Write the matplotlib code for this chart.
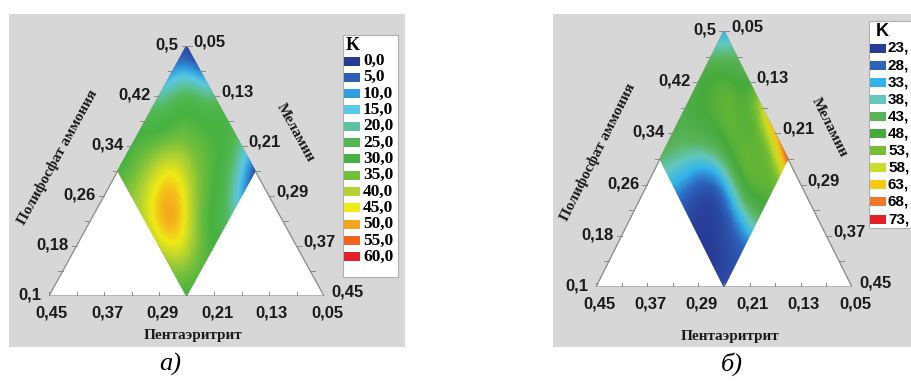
import numpy as np
import matplotlib
matplotlib.use("Agg")
import matplotlib.pyplot as plt
import matplotlib.tri as mtri
from matplotlib.colors import LinearSegmentedColormap, Normalize
from matplotlib.patches import Rectangle, Polygon

W, H = 911, 381

# steps along the two edges of the design region (diamond)
u_steps = [0.0, 0.2, 0.4, 0.6, 0.8, 1.0]   # Пентаэритрит 0.05 -> 0.25
v_steps = [0.0, 0.2, 0.4, 0.6, 0.8, 1.0]   # Меламин 0.05 -> 0.25

# K, rows = u, columns = v
K_a = [
    [2, 8, 22, 28, 20, 3],
    [10, 25, 30, 31, 25, 12],
    [20, 30, 36, 35, 30, 24],
    [27, 35, 44, 43, 35, 30],
    [30, 38, 47, 49, 41, 32],
    [30, 37, 41, 41, 36, 30],
]
K_b = [
    [33, 42, 48, 58, 64, 70],
    [42, 49, 50, 50, 51, 52],
    [47, 49, 49, 49, 49, 46],
    [46, 45, 38, 33, 34, 33],
    [45, 38, 28, 24, 25, 26],
    [42, 33, 26, 23, 23, 25],
]

levels_a = [0, 5, 10, 15, 20, 25, 30, 35, 40, 45, 50, 55, 60]
labels_a = ["%d,0" % v for v in levels_a]
colors_a = ["#283c96", "#2d5fb4", "#2f9ee0", "#5ac8e6", "#5cc3a0", "#52b854", "#46b240",
            "#73bf3c", "#b4d232", "#f0eb14", "#f5a51e", "#f0641e", "#e61e28"]
levels_b = [23, 28, 33, 38, 43, 48, 53, 58, 63, 68, 73]
labels_b = ["%d," % v for v in levels_b]   # cut at the right edge in the source
colors_b = ["#283c96", "#2d64be", "#32b4eb", "#64c8be", "#5ab45a", "#46aa3c", "#78be32",
            "#c8dc28", "#f5c814", "#f07828", "#e61e28"]

ppa_ticks = [0.1, 0.18, 0.26, 0.34, 0.42, 0.5]
mel_ticks = [0.05, 0.13, 0.21, 0.29, 0.37, 0.45]
pen_ticks = [0.45, 0.37, 0.29, 0.21, 0.13, 0.05]

BG = "#d7d7d7"
EDGE = "#8a8a8a"
SANS = ["Liberation Sans", "DejaVu Sans"]
SERIF = ["Liberation Serif", "DejaVu Serif"]


def fmt(v):
    return ("%g" % v).replace(".", ",")


def tern_xy(ppa, mel):
    a = (np.asarray(ppa) - 0.1) / 0.4
    m = (np.asarray(mel) - 0.05) / 0.4
    return m + a / 2, a


fig = plt.figure(figsize=(W / 100, H / 100), dpi=100, facecolor="white")
bg = fig.add_axes([0, 0, 1, 1], zorder=0)
bg.set_xlim(0, W)
bg.set_ylim(H, 0)
bg.axis("off")

panels = [
    dict(box=(9, 14, 396, 333), tri=(49, 296, 275, 250), K=K_a, levels=levels_a, labels=labels_a,
         colors=colors_a, leg=(343, 35, 55, 242), leg_y0=61, leg_step=16.33, leg_font=SERIF,
         leg_size=12.5, leg_tx=20, k_xy=(353, 46), pen_y=-0.156, ppa_xy=(0.033, 0.556),
         mel_xy=(0.898, 0.652), cap=(170, 364, "а)")),
    dict(box=(553, 14, 400, 333), tri=(596, 287, 256, 256), K=K_b, levels=levels_b, labels=labels_b,
         colors=colors_b, leg=(869, 21, 80, 207), leg_y0=48, leg_step=17.1, leg_font=SANS,
         leg_size=11, leg_tx=19, k_xy=(882, 32), pen_y=-0.195, ppa_xy=(0.008, 0.527),
         mel_xy=(0.91, 0.625), cap=(732, 364, "б)")),
]

for p in panels:
    bx, by, bw, bh = p["box"]
    bg.add_patch(Rectangle((bx, by), bw, bh, facecolor=BG, edgecolor="none", zorder=0))

    tx, ty, tw, th = p["tri"]
    ax = fig.add_axes([tx / W, (H - ty) / H, tw / W, th / H], zorder=1)
    ax.set_xlim(0, 1)
    ax.set_ylim(0, 1)
    ax.axis("off")
    ax.patch.set_visible(False)

    ax.add_patch(Polygon([(0, 0), (1, 0), (0.5, 1)], closed=True, facecolor="white",
                         edgecolor=EDGE, linewidth=0.9, zorder=1))

    # surface over the diamond
    uu, vv = np.meshgrid(u_steps, v_steps, indexing="ij")
    pen = 0.05 + 0.2 * uu
    mel = 0.05 + 0.2 * vv
    ppa = 0.6 - pen - mel
    x, y = tern_xy(ppa.ravel(), mel.ravel())
    z = np.asarray(p["K"], dtype=float).ravel()
    tri = mtri.Triangulation(x, y)
    tri_f, z_f = mtri.UniformTriRefiner(tri).refine_field(z, subdiv=4)
    cmap = LinearSegmentedColormap.from_list("k", p["colors"])
    norm = Normalize(p["levels"][0], p["levels"][-1])
    ax.tripcolor(tri_f, z_f, shading="gouraud", cmap=cmap, norm=norm, zorder=2)

    # ticks
    dx = 5 / tw
    dy = 4 / th
    for v in np.arange(0.1, 0.5001, 0.04):
        xx, yy = tern_xy(v, 0.05)
        ax.plot([xx, xx - dx], [yy, yy], color=EDGE, lw=0.7, zorder=3)
    for v in np.arange(0.05, 0.4501, 0.04):
        xx, yy = tern_xy(0.55 - v, v)
        ax.plot([xx, xx + dx], [yy, yy], color=EDGE, lw=0.7, zorder=3)
    for v in np.arange(0.05, 0.4501, 0.04):
        xx, yy = tern_xy(0.1, 0.5 - v)
        ax.plot([xx, xx], [yy, yy + dy], color=EDGE, lw=0.7, zorder=3)

    lab = dict(fontsize=12, fontweight="bold", family=SANS, color="#1a1a1a",
               textcoords="offset pixels", annotation_clip=False)
    for v in ppa_ticks:
        ax.annotate(fmt(v), tern_xy(v, 0.05), xytext=(-8, 1), ha="right", va="center", **lab)
    for v in mel_ticks:
        ax.annotate(fmt(v), tern_xy(0.55 - v, v), xytext=(7, 4), ha="left", va="center", **lab)
    for v in pen_ticks:
        ax.annotate(fmt(v), tern_xy(0.1, 0.5 - v), xytext=(3, -17), ha="center", va="center", **lab)

    ang = np.degrees(np.arctan2(th, tw / 2))
    tit = dict(fontsize=11, fontweight="bold", family=SERIF, color="#1a1a1a",
               transform=ax.transAxes, ha="center", va="center", rotation_mode="anchor")
    ax.text(0.5 + 6 / tw, p["pen_y"], "Пентаэритрит", **tit)
    ax.text(*p["ppa_xy"], "Полифосфат аммония", rotation=ang, **tit)
    ax.text(*p["mel_xy"], "Меламин", rotation=-ang, **tit)

    # legend
    lx, ly, lw, lh = p["leg"]
    bg.add_patch(Rectangle((lx, ly), lw, lh, facecolor="white", edgecolor="#b0b0b0",
                           linewidth=0.8, zorder=2))
    bg.text(*p["k_xy"], "K", fontsize=13, fontweight="bold", family=p["leg_font"],
            ha="center", va="center", zorder=3)
    for i, (text, c) in enumerate(zip(p["labels"], p["colors"])):
        yc = p["leg_y0"] + i * p["leg_step"]
        bg.add_patch(Rectangle((lx + 1, yc - 4.5), 16, 9, facecolor=c, edgecolor="none", zorder=3))
        bg.text(lx + p["leg_tx"], yc, text, fontsize=p["leg_size"], fontweight="bold",
                family=p["leg_font"], ha="left", va="center", zorder=3)

    cx, cy, ct = p["cap"]
    bg.text(cx, cy, ct, fontsize=19, fontstyle="italic", family=SERIF, ha="center", va="center")

fig.savefig("out.png", dpi=100, facecolor="white")
